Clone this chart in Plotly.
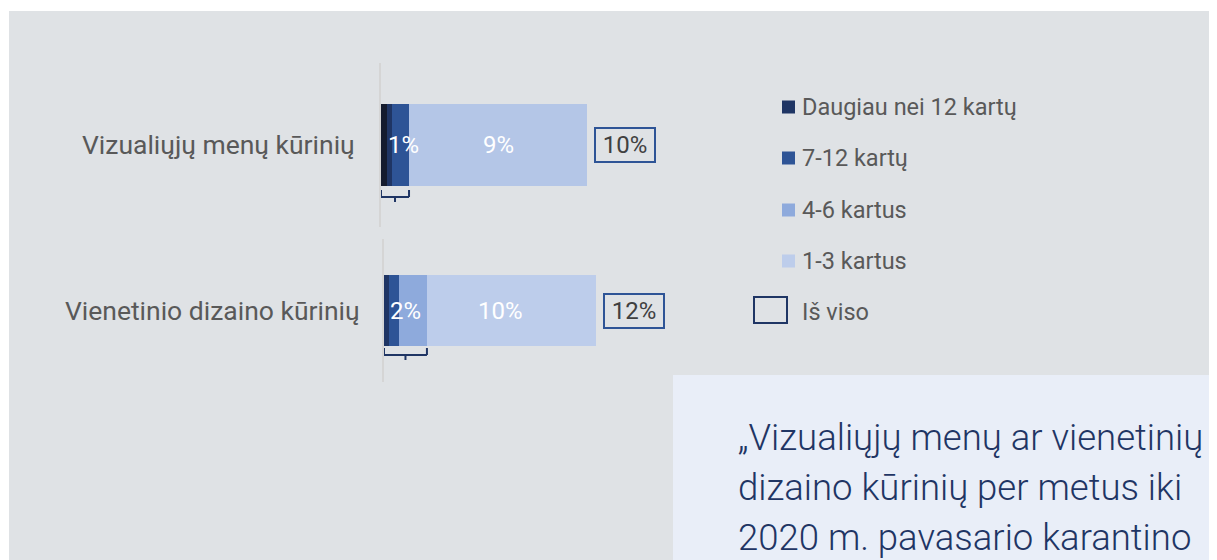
import plotly.graph_objects as go

# ---------------- data ----------------
categories = ["Vizualiųjų menų kūrinių", "Vienetinio dizaino kūrinių"]
series_names = ["Daugiau nei 12 kartų", "7-12 kartų", "4-6 kartus", "1-3 kartus"]
more_than_12 = [0.29, 0.28]
times_7_12 = [0.24, 0.57]
times_4_6 = [0.83, 1.58]
times_1_3 = [8.64, 9.56]
small_group_labels = ["1%", "2%"]
main_labels = ["9%", "10%"]
total_labels = ["10%", "12%"]
total_legend = "Iš viso"
quote_lines = ["„Vizualiųjų menų ar vienetinių",
               "dizaino kūrinių per metus iki",
               "2020 m. pavasario karantino"]

# ---------------- styles ----------------
OFF = 8               # page body margin
W, H = 1209, 552      # figure size
def px(x): return (x - OFF) / W
def py(y): return 1 - (y - OFF) / H

row_colors = [["#141b2e", "#1f3564", "#2e5496", "#b4c6e7"],
              ["#1f3564", "#2e5496", "#8eaadc", "#bdcdeb"]]
legend_colors = ["#1f3564", "#2e5496", "#8eaadc", "#bdcdeb"]
FONT = "Roboto"
GREY_TXT = "#595959"
NAVY = "#1f3564"

series_vals = [more_than_12, times_7_12, times_4_6, times_1_3]

fig = go.Figure()
axes = [("x", "y"), ("x2", "y2")]
for r, cat in enumerate(categories):
    xa, ya = axes[r]
    for s, name in enumerate(series_names):
        fig.add_trace(go.Bar(
            x=[series_vals[s][r]], y=[cat], orientation="h",
            name=name, width=0.5, showlegend=False,
            marker=dict(color=row_colors[r][s], line=dict(width=0)),
            xaxis=xa, yaxis=ya, hoverinfo="skip"))

x_domains = [[px(381), px(381 + 247.2)], [px(384), px(384 + 212.0)]]
y_domains = [[py(227), py(63)], [py(382), py(239)]]

layout = dict(
    width=W, height=H, margin=dict(l=0, r=0, t=0, b=0),
    paper_bgcolor="white", plot_bgcolor="rgba(0,0,0,0)",
    barmode="stack", showlegend=False,
    font=dict(family=FONT, size=24, color=GREY_TXT),
)
standoffs = [19, 17]
for r in range(2):
    sx = "" if r == 0 else "2"
    layout["xaxis" + sx] = dict(domain=x_domains[r], range=[0, 12], visible=False,
                                 anchor="y" + sx, fixedrange=True)
    layout["yaxis" + sx] = dict(domain=y_domains[r], anchor="x" + sx, type="category",
                                 range=[-0.5, 0.5], showline=True, linecolor="#d5d5d5",
                                 linewidth=2, ticks="", showgrid=False, zeroline=False,
                                 ticklabelstandoff=standoffs[r],
                                 tickfont=dict(family=FONT, size=26.5, color=GREY_TXT))
fig.update_layout(**layout)

shapes = []
# background panels
shapes.append(dict(type="rect", xref="paper", yref="paper", x0=px(9), x1=1, y0=0, y1=py(11),
                   fillcolor="#dfe2e5", line=dict(width=0), layer="below"))
shapes.append(dict(type="rect", xref="paper", yref="paper", x0=px(673), x1=1, y0=0, y1=py(375),
                   fillcolor="#e9eef8", line=dict(width=0), layer="below"))

annotations = []
bracket_y = [(190, 197, 202), (348, 355, 360)]
label_shift = [8, 0]
main_shift = [0, -11]
for r, cat in enumerate(categories):
    sx = "" if r == 0 else "2"
    small_sum = more_than_12[r] + times_7_12[r] + times_4_6[r]
    total = small_sum + times_1_3[r]
    top, hor, tick = bracket_y[r]
    line = dict(color=NAVY, width=2)
    shapes += [
        dict(type="line", xref="x" + sx, yref="paper", x0=0, x1=small_sum,
             y0=py(hor), y1=py(hor), line=line),
        dict(type="line", xref="x" + sx, yref="paper", x0=0, x1=0,
             y0=py(top), y1=py(hor), line=line),
        dict(type="line", xref="x" + sx, yref="paper", x0=small_sum, x1=small_sum,
             y0=py(top), y1=py(hor), line=line),
        dict(type="line", xref="x" + sx, yref="paper", x0=small_sum / 2, x1=small_sum / 2,
             y0=py(hor), y1=py(tick), line=line),
    ]
    annotations.append(dict(xref="x" + sx, yref="y" + sx, x=small_sum / 2, y=cat,
                            text=small_group_labels[r], showarrow=False, xshift=label_shift[r],
                            font=dict(family=FONT, size=24, color="white")))
    annotations.append(dict(xref="x" + sx, yref="y" + sx, x=small_sum + times_1_3[r] / 2, y=cat,
                            text=main_labels[r], showarrow=False, xshift=main_shift[r],
                            font=dict(family=FONT, size=24, color="white")))
    annotations.append(dict(xref="x" + sx, yref="y" + sx, x=total, y=cat, xanchor="left",
                            xshift=7, text=total_labels[r], showarrow=False,
                            width=54, height=28, borderpad=2, borderwidth=2,
                            bordercolor="#2e5496",
                            font=dict(family=FONT, size=24, color="#404040")))

# legend
legend_y = [107, 158, 210, 261]
for name, col, yc in zip(series_names, legend_colors, legend_y):
    shapes.append(dict(type="rect", xref="paper", yref="paper", x0=px(782), x1=px(795),
                       y0=py(yc + 6.5), y1=py(yc - 6.5), fillcolor=col, line=dict(width=0)))
    annotations.append(dict(xref="paper", yref="paper", x=px(800), y=py(yc), xanchor="left",
                            yanchor="middle", text=name, showarrow=False,
                            font=dict(family=FONT, size=23.5, color=GREY_TXT)))
shapes.append(dict(type="rect", xref="paper", yref="paper", x0=px(754), x1=px(787),
                   y0=py(323), y1=py(297), fillcolor="rgba(0,0,0,0)",
                   line=dict(color=NAVY, width=2)))
annotations.append(dict(xref="paper", yref="paper", x=px(800), y=py(312), xanchor="left",
                        yanchor="middle", text=total_legend, showarrow=False,
                        font=dict(family=FONT, size=23.5, color=GREY_TXT)))

# quote (one annotation per line, 50 px apart)
for i, ln in enumerate(quote_lines):
    annotations.append(dict(xref="paper", yref="paper", x=px(736), y=py(437 + 50 * i),
                            xanchor="left", yanchor="middle", align="left", text=ln,
                            showarrow=False,
                            font=dict(family=FONT, size=36.5, color=NAVY, weight=300)))

fig.update_layout(shapes=shapes, annotations=annotations)
fig.write_html("out.html")
